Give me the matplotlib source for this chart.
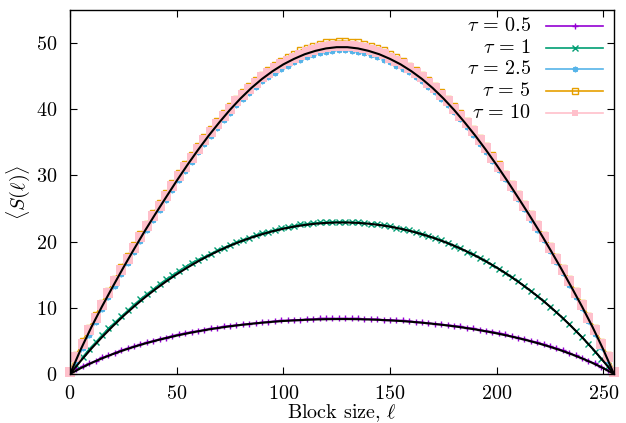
import numpy as np
import matplotlib
matplotlib.use('Agg')
import matplotlib.pyplot as plt

plt.rcParams['font.family'] = 'serif'
plt.rcParams['font.serif'] = ['cmr10']
plt.rcParams['mathtext.fontset'] = 'cm'
plt.rcParams['axes.unicode_minus'] = False
plt.rcParams['axes.formatter.use_mathtext'] = True

# block sizes of the sampled points and of the fitted curves
ell = np.arange(0, 256, 3)
ell_fit = np.arange(0, 256, 5)

s_tau05 = [0.1, 0.7, 1.2, 1.6, 2.0, 2.5, 2.8, 3.2, 3.6, 3.9, 4.2, 4.5, 4.8, 5.0, 5.3, 5.5, 5.8, 6.0, 6.2, 6.4,
           6.5, 6.7, 6.9, 7.0, 7.2, 7.3, 7.4, 7.5, 7.6, 7.7, 7.8, 7.9, 8.0, 8.1, 8.1, 8.2, 8.2, 8.3, 8.3, 8.4,
           8.4, 8.4, 8.4,
           8.4, 8.4, 8.4, 8.3, 8.3, 8.3, 8.2, 8.2, 8.1, 8.1, 8.0, 7.9, 7.8, 7.7, 7.6, 7.5, 7.4, 7.3, 7.2, 7.0,
           6.9, 6.7, 6.5, 6.4, 6.2, 6.0, 5.7, 5.5, 5.3, 5.0, 4.8, 4.5, 4.2, 3.9, 3.6, 3.2, 2.8, 2.4, 2.0, 1.6,
           1.1, 0.6, 0.1]
s_tau1 = [0.1, 1.4, 2.6, 3.8, 4.8, 5.9, 6.9, 7.8, 8.7, 9.6, 10.5, 11.3, 12.1, 12.8, 13.6, 14.3, 14.9, 15.6,
          16.2, 16.8, 17.3, 17.7, 18.2, 18.7, 19.1, 19.5, 19.9, 20.3, 20.6, 21.0, 21.3, 21.5, 21.8, 22.0,
          22.2, 22.4, 22.6, 22.7, 22.8, 22.9, 22.9, 23.0, 23.0,
          23.0, 22.9, 22.9, 22.8, 22.7, 22.6, 22.5, 22.3, 22.1, 21.9, 21.7, 21.4, 21.2, 20.9, 20.5, 20.2,
          19.8, 19.4, 19.0, 18.5, 18.1, 17.6, 17.0, 16.5, 15.9, 15.3, 14.6, 14.0, 13.3, 12.5, 11.8, 11.0,
          10.2, 9.3, 8.4, 7.5, 6.5, 5.6, 4.5, 3.4, 2.3, 1.2, 0.1]
s_tau25 = [0.2, 1.9, 3.9, 5.9, 7.9, 9.8, 11.6, 13.3, 15.1, 16.8, 18.4, 20.1, 21.7, 23.2, 24.8, 26.3, 27.8,
           29.3, 30.7, 32.1, 33.5, 34.8, 36.0, 37.2, 38.4, 39.5, 40.6, 41.6, 42.5, 43.4, 44.2, 44.9, 45.5,
           46.1, 46.6, 47.1, 47.5, 47.9, 48.2, 48.5, 48.7, 48.8, 48.9,
           48.9, 48.8, 48.7, 48.5, 48.2, 47.9, 47.5, 47.1, 46.6, 46.1, 45.6, 44.9, 44.2, 43.4, 42.6, 41.6,
           40.6, 39.6, 38.5, 37.3, 36.1, 34.8, 33.5, 32.2, 30.8, 29.4, 27.9, 26.4, 24.9, 23.3, 21.8, 20.2,
           18.6, 16.9, 15.2, 13.5, 11.7, 9.9, 8.0, 6.1, 4.1, 2.0, 0.2]
s_tau5 = [0.4, 2.9, 5.0, 7.0, 8.9, 10.8, 12.6, 14.4, 16.1, 17.8, 19.5, 21.1, 22.7, 24.3, 25.8, 27.3, 28.8,
          30.3, 31.7, 33.1, 34.5, 35.8, 37.0, 38.2, 39.4, 40.5, 41.6, 42.6, 43.5, 44.4, 45.2, 46.0, 46.7,
          47.3, 47.9, 48.4, 48.9, 49.3, 49.6, 49.9, 50.1, 50.2, 50.3,
          50.3, 50.2, 50.1, 49.9, 49.6, 49.3, 48.9, 48.4, 47.9, 47.3, 46.6, 45.9, 45.2, 44.4, 43.5, 42.6,
          41.6, 40.5, 39.4, 38.2, 37.0, 35.7, 34.4, 33.1, 31.7, 30.2, 28.7, 27.2, 25.7, 24.2, 22.6, 21.0,
          19.4, 17.7, 16.0, 14.3, 12.5, 10.7, 8.8, 6.9, 4.9, 2.8, 0.4]
s_tau10 = [0.3, 2.5, 4.6, 6.6, 8.5, 10.4, 12.2, 14.0, 15.7, 17.4, 19.1, 20.7, 22.3, 23.9, 25.4, 26.9, 28.4,
           29.9, 31.3, 32.7, 34.0, 35.4, 36.6, 37.8, 39.0, 40.1, 41.2, 42.2, 43.1, 44.0, 44.8, 45.5, 46.2,
           46.8, 47.3, 47.8, 48.2, 48.6, 48.9, 49.2, 49.4, 49.5, 49.6,
           49.6, 49.5, 49.4, 49.2, 48.9, 48.6, 48.3, 47.8, 47.3, 46.8, 46.2, 45.5, 44.8, 44.0, 43.2, 42.2,
           41.2, 40.1, 39.0, 37.9, 36.7, 35.4, 34.1, 32.7, 31.3, 29.9, 28.4, 26.9, 25.4, 23.9, 22.3, 20.7,
           19.1, 17.4, 15.7, 14.0, 12.2, 10.4, 8.5, 6.6, 4.6, 2.5, 0.3]

# fitted curves (black)
fit_low = [0, 0.88, 1.66, 2.36, 3.00, 3.58, 4.11, 4.59, 5.03, 5.43, 5.80, 6.14, 6.45, 6.73, 6.98, 7.21,
           7.41, 7.59, 7.75, 7.89, 8.01, 8.10, 8.18, 8.24, 8.28, 8.30,
           8.30, 8.28, 8.24, 8.18, 8.10, 8.01, 7.89, 7.75, 7.59, 7.41, 7.21, 6.98, 6.73, 6.45, 6.14, 5.80,
           5.43, 5.03, 4.59, 4.11, 3.58, 3.00, 2.36, 1.66, 0.88, 0]
fit_mid = [0, 1.97, 3.83, 5.57, 7.21, 8.75, 10.19, 11.54, 12.80, 13.97, 15.07, 16.08, 17.02, 17.88, 18.67,
           19.39, 20.03, 20.61, 21.12, 21.57, 21.95, 22.27, 22.52, 22.71, 22.83, 22.89,
           22.89, 22.83, 22.71, 22.52, 22.27, 21.95, 21.57, 21.12, 20.61, 20.03, 19.39, 18.67, 17.88, 17.02,
           16.08, 15.07, 13.97, 12.80, 11.54, 10.19, 8.75, 7.21, 5.57, 3.83, 1.97, 0]
fit_high = [0, 3.69, 7.07, 10.20, 13.17, 16.07, 18.86, 21.57, 24.17, 26.69, 29.18, 31.57, 33.85, 36.01,
            38.02, 39.92, 41.65, 43.21, 44.58, 45.76, 46.78, 47.61, 48.31, 48.82, 49.19, 49.38,
            49.38, 49.19, 48.82, 48.31, 47.61, 46.78, 45.76, 44.58, 43.21, 41.65, 39.92, 38.02, 36.01, 33.85,
            31.57, 29.18, 26.69, 24.17, 21.57, 18.86, 16.07, 13.17, 10.20, 7.07, 3.69, 0]

labels = [r'$\tau \,=\, 0.5$', r'$\tau \,=\, 1$', r'$\tau \,=\, 2.5$', r'$\tau \,=\, 5$', r'$\tau \,=\, 10$']
colors = ['#9400d3', '#009e73', '#56b4e9', '#e69f00', '#ffc0cb']
series = [s_tau05, s_tau1, s_tau25, s_tau5, s_tau10]
markers = [
    dict(marker='+', ms=5, mew=1.0),
    dict(marker='x', ms=4, mew=1.0),
    dict(marker=(8, 2, 0), ms=4, mew=1.0),
    dict(marker='s', ms=4, mew=1.0, mfc='none'),
    dict(marker='s', ms=6.5, mew=0),
]
key_sizes = [5, 4, 4, 4.5, 5]
FS = 14.5

fig = plt.figure(figsize=(6.26, 4.23), dpi=100)
ax = fig.add_axes([0.1118, 0.1158, 0.8690, 0.8606])

# linespoints for every series
for s, c, m in zip(series, colors, markers):
    ax.plot(ell, s, ls='-', lw=1.0, color=c, clip_on=False, **m)

for f in (fit_low, fit_mid, fit_high):
    ax.plot(ell_fit, f, color='black', lw=1.5, zorder=5)

# key in the top right corner: right-aligned text, line sample with a point
rows = [0.956, 0.896, 0.837, 0.777, 0.718]
for y, lab, c, m, ks in zip(rows, labels, colors, markers, key_sizes):
    ax.plot([0.875, 0.980], [y, y], color=c, lw=1.2, transform=ax.transAxes)
    ax.plot([0.9275], [y], ls='none', color=c, transform=ax.transAxes, **{**m, 'ms': ks})
    ax.text(0.847, y, lab, ha='right', va='center', fontsize=FS, transform=ax.transAxes)

ax.set_xlim(0, 255)
ax.set_ylim(0, 55)
ax.set_xticks([0, 50, 100, 150, 200, 250])
ax.set_yticks([0, 10, 20, 30, 40, 50])
ax.tick_params(direction='in', top=True, right=True, length=4.8, width=0.8,
               labelsize=FS, pad=9)
ax.tick_params(axis='x', pad=8)
for sp in ax.spines.values():
    sp.set_linewidth(1.0)

ax.set_xlabel(r'Block size, $\ell$', fontsize=FS, labelpad=-1)
ax.set_ylabel(r'$\langle S(\ell)\rangle$', fontsize=FS, labelpad=3)

fig.savefig('out.png', dpi=100)
